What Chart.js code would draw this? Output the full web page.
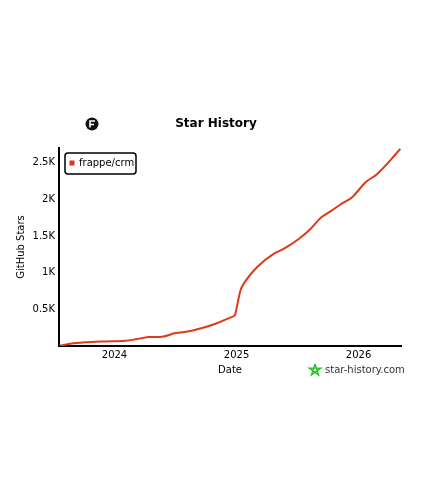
<!DOCTYPE html>
<html>
  <head>
    <script src="https://cdn.jsdelivr.net/npm/chart.js@4"></script>
    <style>
      html, body { margin: 0; padding: 0; background: #fff; }
      #wrap { width: 432px; height: 500px; }
    </style>
  </head>
  <body>
    <div id="wrap"><canvas id="canvas"></canvas></div>
    <script>
      const repo = 'frappe/crm';
      const dates = [
        '2023-07-21', '2023-08-17', '2023-10-06', '2023-12-05', '2024-02-03',
        '2024-03-04', '2024-04-13', '2024-05-23', '2024-07-02', '2024-08-11',
        '2024-09-20', '2024-10-30', '2024-12-19', '2024-12-27', '2025-01-06',
        '2025-01-13', '2025-01-23', '2025-03-04', '2025-04-23', '2025-05-23',
        '2025-07-07', '2025-08-11', '2025-09-10', '2025-10-10', '2025-11-14',
        '2025-12-13', '2026-01-22', '2026-02-26', '2026-05-06'
      ];
      const stars = [
        3, 27, 50, 63, 72,
        91, 122, 127, 177, 200,
        245, 303, 398, 421, 625,
        761, 852, 1078, 1260, 1327,
        1463, 1599, 1749, 1839, 1948,
        2029, 2233, 2347, 2687
      ];
      const yearTicks = [2024, 2025, 2026];
      const starTicks = [500, 1000, 1500, 2000, 2500];

      const FONT = '"DejaVu Sans", sans-serif';

      // date string -> fractional year, so a linear axis can carry it
      function toYear(s) {
        const d = new Date(s + 'T00:00:00Z');
        const y = d.getUTCFullYear();
        const start = Date.UTC(y, 0, 1), end = Date.UTC(y + 1, 0, 1);
        return y + (d.getTime() - start) / (end - start);
      }
      const points = dates.map((d, i) => ({ x: toYear(d), y: stars[i] }));

      const decor = {
        id: 'decor',
        afterDraw(chart) {
          const ctx = chart.ctx;
          ctx.save();
          // title
          ctx.fillStyle = '#000';
          ctx.font = 'bold 12px ' + FONT;
          ctx.textAlign = 'center';
          ctx.textBaseline = 'middle';
          ctx.fillText('Star History', 216, 124);
          // repo logo
          ctx.beginPath();
          ctx.arc(92, 124, 6.5, 0, Math.PI * 2);
          ctx.fillStyle = '#111';
          ctx.fill();
          ctx.strokeStyle = '#fff';
          ctx.lineWidth = 1.6;
          ctx.beginPath();
          ctx.moveTo(95, 121); ctx.lineTo(90, 121); ctx.lineTo(90, 127.5);
          ctx.moveTo(90, 124.5); ctx.lineTo(94, 124.5);
          ctx.stroke();
          // legend box
          ctx.lineWidth = 1.5;
          ctx.strokeStyle = '#000';
          ctx.fillStyle = '#fff';
          ctx.beginPath();
          ctx.roundRect(65, 153, 71, 21, 3);
          ctx.fill();
          ctx.stroke();
          ctx.fillStyle = '#e0391a';
          ctx.fillRect(69.5, 160.5, 5, 5);
          ctx.fillStyle = '#000';
          ctx.font = '10px ' + FONT;
          ctx.textAlign = 'left';
          ctx.fillText(repo, 79, 163.5);
          // watermark
          drawStar(ctx, 315, 370, 6);
          ctx.fillStyle = '#333';
          ctx.font = '10px ' + FONT;
          ctx.fillText('star-history.com', 325, 370.5);
          ctx.restore();
        }
      };

      function drawStar(ctx, cx, cy, r) {
        ctx.save();
        ctx.strokeStyle = '#22c522';
        ctx.lineWidth = 1.4;
        ctx.beginPath();
        for (let i = 0; i <= 5; i++) {
          const a = -Math.PI / 2 + i * (4 * Math.PI / 5);
          const px = cx + r * Math.cos(a), py = cy + r * Math.sin(a);
          if (i === 0) ctx.moveTo(px, py); else ctx.lineTo(px, py);
        }
        ctx.stroke();
        ctx.restore();
      }

      new Chart(document.getElementById('canvas'), {
        type: 'line',
        data: {
          datasets: [{
            label: repo,
            data: points,
            borderColor: '#e0391a',
            backgroundColor: '#e0391a',
            borderWidth: 2,
            pointRadius: 0,
            tension: 0.3,
            cubicInterpolationMode: 'monotone'
          }]
        },
        options: {
          responsive: true,
          maintainAspectRatio: false,
          animation: false,
          layout: { padding: { top: 148, right: 31, bottom: 120, left: 15 } },
          plugins: {
            legend: { display: false },
            tooltip: { enabled: false }
          },
          scales: {
            x: {
              type: 'linear',
              min: toYear('2023-07-19'),
              max: toYear('2026-05-08'),
              grid: { display: false, drawTicks: false },
              border: { display: true, color: '#000', width: 2 },
              afterBuildTicks: (s) => { s.ticks = yearTicks.map(v => ({ value: v })); },
              afterFit: (s) => { s.height = 34; },
              ticks: {
                color: '#000',
                font: { family: FONT, size: 10 },
                padding: 3,
                maxRotation: 0,
                callback: (v) => String(v)
              },
              title: {
                display: true, text: 'Date', color: '#000',
                font: { family: FONT, size: 10 }, padding: { top: 2 }
              }
            },
            y: {
              min: 0,
              max: 2700,
              grid: { display: false, drawTicks: false },
              border: { display: true, color: '#000', width: 2 },
              afterBuildTicks: (s) => { s.ticks = starTicks.map(v => ({ value: v })); },
              afterFit: (s) => { s.width = 44; },
              ticks: {
                color: '#000',
                font: { family: FONT, size: 10 },
                padding: 4,
                callback: (v) => (v / 1000) + 'K'
              },
              title: {
                display: true, text: 'GitHub Stars', color: '#000',
                font: { family: FONT, size: 10 }, padding: { top: 0, bottom: 0 }
              }
            }
          }
        },
        plugins: [decor]
      });
    </script>
  </body>
</html>
